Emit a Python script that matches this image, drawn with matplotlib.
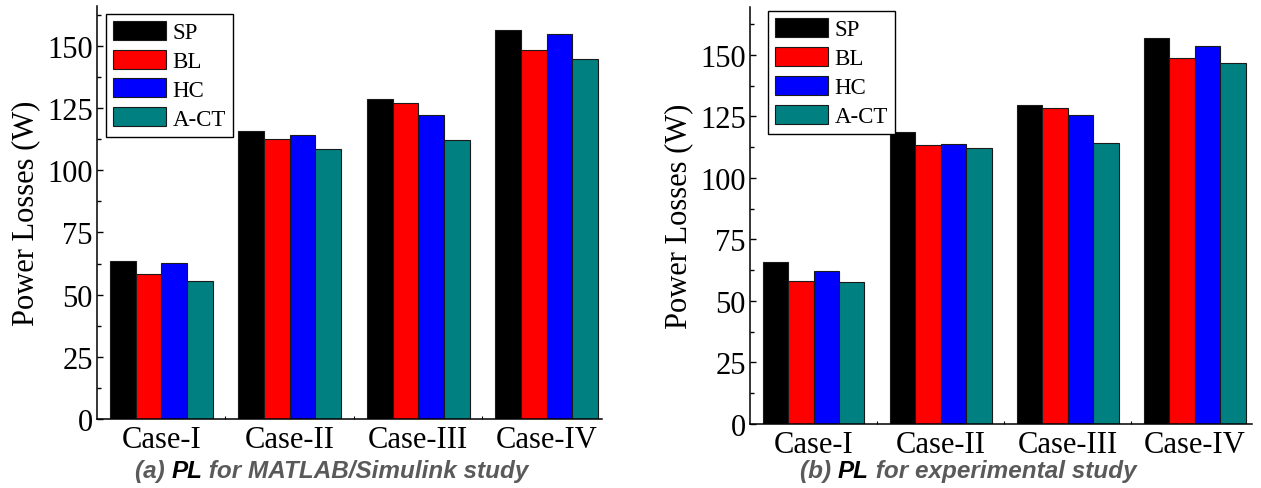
import matplotlib
matplotlib.use("Agg")
import matplotlib.pyplot as plt
import numpy as np
from matplotlib.ticker import MultipleLocator, FixedLocator

cases = ["Case-I", "Case-II", "Case-III", "Case-IV"]
methods = ["SP", "BL", "HC", "A-CT"]
colors = ["#000000", "#ff0000", "#0000ff", "#008080"]

# MATLAB/Simulink study
sim_sp = [63.6, 115.7, 128.6, 156.5]
sim_bl = [58.1, 112.4, 127.0, 148.5]
sim_hc = [62.8, 114.0, 122.2, 154.6]
sim_act = [55.5, 108.6, 112.1, 144.6]

# experimental study
exp_sp = [65.7, 118.7, 129.8, 156.8]
exp_bl = [58.3, 113.3, 128.3, 148.8]
exp_hc = [62.3, 113.7, 125.5, 153.8]
exp_act = [57.8, 112.1, 114.4, 146.7]

plt.rcParams["font.family"] = "Liberation Serif"

fig = plt.figure(figsize=(12.61, 4.89), dpi=100)
ax1 = fig.add_axes([0.0769, 0.1411, 0.4005, 0.8446])
ax2 = fig.add_axes([0.5948, 0.1309, 0.3981, 0.8528])


def draw_panel(ax, series, ylim, xlim, leg_anchor):
    x = np.arange(len(cases))
    width = 0.2
    for i, (vals, name) in enumerate(zip(series, methods)):
        ax.bar(x + (i - 1.5) * width, vals, width, color=colors[i],
               edgecolor="#1a1a1a", linewidth=0.8, label=name)
    ax.set_xlim(*xlim)
    ax.set_ylim(*ylim)
    ax.set_xticks(x)
    ax.set_xticklabels(cases, fontsize=22)
    ax.xaxis.set_minor_locator(FixedLocator([0.5, 1.5, 2.5]))
    ax.yaxis.set_major_locator(MultipleLocator(25))
    ax.yaxis.set_minor_locator(MultipleLocator(12.5))
    ax.tick_params(axis="y", which="major", direction="in", length=4,
                   width=1, labelsize=22, pad=3)
    ax.tick_params(axis="y", which="minor", direction="in", length=3, width=1)
    ax.tick_params(axis="x", which="major", length=0, labelsize=22, pad=4)
    ax.tick_params(axis="x", which="minor", direction="in", length=2, width=0.8)
    for s in ["top", "right"]:
        ax.spines[s].set_visible(False)
    for s in ["left", "bottom"]:
        ax.spines[s].set_linewidth(1.1)
    ax.set_ylabel("Power Losses (W)", fontsize=22, labelpad=5)
    leg = ax.legend(loc="upper left", bbox_to_anchor=leg_anchor,
                    borderaxespad=0, fontsize=16.5, handlelength=2.3,
                    handleheight=0.9, labelspacing=0.28, borderpad=0.3,
                    handletextpad=0.3, fancybox=False, framealpha=1,
                    edgecolor="black")
    leg.get_frame().set_linewidth(1.0)


draw_panel(ax1, [sim_sp, sim_bl, sim_hc, sim_act], (0, 166), (-0.5, 3.43),
           (0.018, 0.981))
draw_panel(ax2, [exp_sp, exp_bl, exp_hc, exp_act], (0, 169.5), (-0.5, 3.45),
           (0.036, 0.99))


def caption(cx, cy, parts):
    # parts: list of (text, color); drawn left to right and centred on cx
    renderer = fig.canvas.get_renderer()
    style = dict(fontsize=17.5, fontweight="bold", fontstyle="italic",
                 family="Liberation Sans", va="center", ha="left")
    texts = [fig.text(0, cy, t, color=c, **style) for t, c in parts]
    widths = [t.get_window_extent(renderer).width / fig.bbox.width for t in texts]
    x = cx - sum(widths) / 2
    for t, w in zip(texts, widths):
        t.set_x(x)
        x += w


gray = "#5a5a5a"
caption(0.263, 0.036, [("(a) ", gray), ("PL", "black"),
                       (" for MATLAB/Simulink study", gray)])
caption(0.768, 0.036, [("(b) ", gray), ("PL", "black"),
                       (" for experimental study", gray)])

fig.savefig("out.png", dpi=100)
